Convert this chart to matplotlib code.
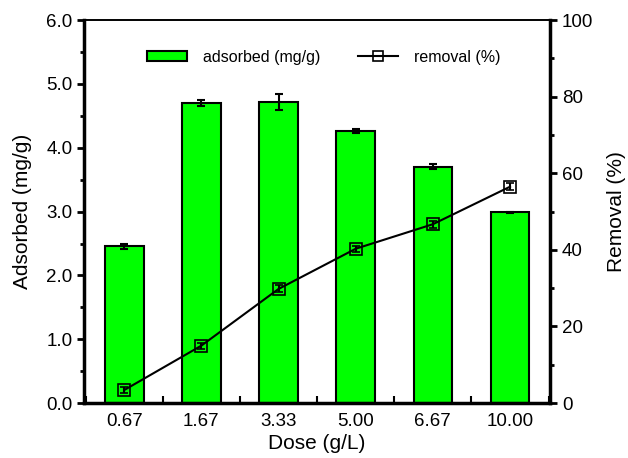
import numpy as np
import matplotlib.pyplot as plt
from matplotlib.ticker import MultipleLocator
from matplotlib.lines import Line2D

plt.rcParams['font.family'] = ['Liberation Sans', 'DejaVu Sans']

# dados
doses = ['0.67', '1.67', '3.33', '5.00', '6.67', '10.00']
adsorbed = [2.46, 4.70, 4.72, 4.26, 3.70, 2.99]
adsorbed_err = [0.04, 0.05, 0.13, 0.03, 0.04, 0.01]
removal = [3.4, 15.0, 29.8, 40.3, 46.7, 56.5]
removal_err = [0.8, 0.8, 0.9, 0.8, 0.9, 0.9]

x = np.arange(len(doses))

fig = plt.figure(figsize=(6.28, 4.58), dpi=100)
ax = fig.add_axes([0.134, 0.12, 0.742, 0.836])

ax.bar(x, adsorbed, width=0.5, color='#00ff00', edgecolor='black', linewidth=1.5,
       yerr=adsorbed_err, capsize=3, error_kw={'elinewidth': 1.5, 'capthick': 1.5},
       label='adsorbed (mg/g)', zorder=2)
ax.set_xlim(-0.52, 5.52)
ax.set_ylim(0, 6)
ax.set_xticks(x)
ax.set_xticklabels(doses)
ax.xaxis.set_minor_locator(MultipleLocator(0.5))
ax.yaxis.set_major_locator(MultipleLocator(1.0))
ax.yaxis.set_minor_locator(MultipleLocator(0.5))
ax.yaxis.set_major_formatter(plt.FormatStrFormatter('%.1f'))
ax.tick_params(axis='x', which='both', direction='in', length=5, width=1.5, labelsize=13.5)
ax.tick_params(axis='x', which='major', length=0, pad=7)
ax.tick_params(axis='y', which='major', direction='out', length=5, width=2, labelsize=13.5)
ax.tick_params(axis='y', which='minor', direction='out', length=3, width=2)
ax.set_xlabel('Dose (g/L)', fontsize=15, labelpad=3)
ax.set_ylabel('Adsorbed (mg/g)', fontsize=15, labelpad=10)
ax.spines['left'].set_linewidth(2.5)
ax.spines['bottom'].set_linewidth(2.5)
ax.spines['top'].set_linewidth(1.2)

ax2 = ax.twinx()
ax2.errorbar(x, removal, yerr=removal_err, color='black', marker='s', markersize=8,
             markerfacecolor='none', markeredgewidth=1.2, linewidth=1.5, capsize=3,
             zorder=3)
ax2.set_ylim(0, 100)
ax2.yaxis.set_major_locator(MultipleLocator(20))
ax2.yaxis.set_minor_locator(MultipleLocator(10))
ax2.tick_params(axis='y', which='major', direction='out', length=5, width=2, labelsize=13.5)
ax2.tick_params(axis='y', which='minor', direction='out', length=3, width=2)
ax2.set_ylabel('Removal (%)', fontsize=15, labelpad=10)
ax2.spines['right'].set_linewidth(2.5)
ax2.spines['left'].set_visible(False)
ax2.spines['bottom'].set_visible(False)
ax2.spines['top'].set_linewidth(1.2)

h1, l1 = ax.get_legend_handles_labels()
h2 = Line2D([], [], color='black', marker='s', markersize=7, markerfacecolor='none',
            markeredgewidth=1.2, linewidth=1.5)
ax2.legend(h1 + [h2], l1 + ['removal (%)'], loc='center', bbox_to_anchor=(0.514, 0.903),
           ncol=2, frameon=False, fontsize=11.5, handlelength=2.5, handleheight=0.6,
           columnspacing=2.4, handletextpad=1.0, borderpad=0, borderaxespad=0)

fig.savefig('out.png', dpi=100)
